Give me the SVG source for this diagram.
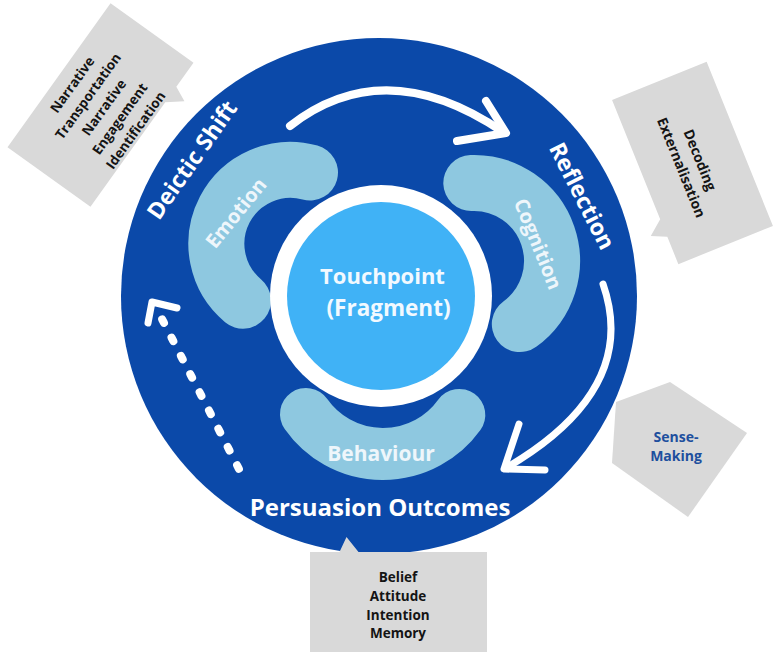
<svg xmlns="http://www.w3.org/2000/svg" width="774" height="652" viewBox="0 0 774 652">
  <style>
    text { font-family: "Open Sans", "Noto Sans", "Liberation Sans", sans-serif; font-weight: 700; }
    .ring-label { fill: #ffffff; font-size: 23px; text-anchor: middle; }
    .petal { fill: none; stroke: #8ec8e0; stroke-linecap: round; }
    .petal-label { fill: #eef6fb; font-size: 20px; text-anchor: middle; }
    .note { fill: #d9d9d9; }
    .note-text { fill: #141414; font-size: 13.5px; text-anchor: middle; }
    .flow { fill: none; stroke: #ffffff; stroke-linecap: round; stroke-linejoin: round; }
  </style>
  <defs>
    <!-- wedge callout: 177 x 102 box, pointer on the lower edge -->
    <path id="callout" d="M-88.5,-51 H88.5 V51 H59 L52,66 L40,51 H-88.5 Z"/>
  </defs>

  <!-- outer disc -->
  <g id="outer-ring">
    <circle cx="379" cy="296" r="258" fill="#0b49a9"/>
    <text class="ring-label" transform="translate(192,160) rotate(-55)" dy="0.35em">Deictic Shift</text>
    <text class="ring-label" transform="translate(582,196) rotate(63)" dy="0.35em">Reflection</text>
    <text class="ring-label" x="380" y="516" style="font-size:24px">Persuasion Outcomes</text>
  </g>

  <!-- cycle petals -->
  <g id="emotion">
    <path class="petal" stroke-width="56" d="M310,172.5 A74,74 0 0 0 243,300.7"/>
    <text class="petal-label" transform="translate(236,213) rotate(-51)" dy="0.35em">Emotion</text>
  </g>
  <g id="cognition">
    <path class="petal" stroke-width="56" d="M471.3,183 A78,78 0 0 1 519.8,324.1"/>
    <text class="petal-label" transform="translate(538,244) rotate(68)" dy="0.35em">Cognition</text>
  </g>
  <g id="behaviour">
    <path class="petal" stroke-width="52" d="M306,414 A94,94 0 0 0 459.3,414.9"/>
    <text class="petal-label" x="381" y="461" style="font-size:21px">Behaviour</text>
  </g>

  <!-- centre -->
  <g id="touchpoint">
    <circle cx="381" cy="296" r="111" fill="#ffffff"/>
    <circle cx="381" cy="296" r="94" fill="#40b2f6"/>
    <text x="382.5" y="284" fill="#f2f9ff" font-size="22" text-anchor="middle">Touchpoint</text>
    <text x="388.5" y="316" fill="#f2f9ff" font-size="22.5" text-anchor="middle">(Fragment)</text>
  </g>

  <!-- flow arrows -->
  <g id="connectors">
    <path class="flow" stroke-width="8" d="M290,126 Q385,52 503,132"/>
    <path class="flow" stroke-width="8" d="M486,101 L506,133 L457,141"/>
    <path class="flow" stroke-width="7" d="M603,284 Q640,390 506,468"/>
    <path class="flow" stroke-width="7" d="M519,424 L504,469 L545,470"/>
    <path class="flow" stroke-width="8" stroke-dasharray="4 16.5" stroke-linejoin="miter" d="M238.9,468.8 L162.1,319.2"/>
    <path class="flow" stroke-width="7" d="M148,323 L152,302 L177,308"/>
  </g>

  <!-- callouts -->
  <g id="note-narrative">
    <g transform="translate(100.5,105) rotate(-54.4)">
      <use href="#callout" class="note"/>
      <text class="note-text" y="-30">Narrative</text>
      <text class="note-text" y="-10.5">Transportation</text>
      <text class="note-text" y="9">Narrative</text>
      <text class="note-text" y="28.5">Engagement</text>
      <text class="note-text" y="48">Identification</text>
    </g>
  </g>

  <g id="note-decoding">
    <g transform="translate(692.5,163) rotate(68)">
      <use href="#callout" class="note"/>
      <text class="note-text" y="-3" style="font-size:14px">Decoding</text>
      <text class="note-text" y="17" style="font-size:14px">Externalisation</text>
    </g>
  </g>

  <g id="note-sense-making">
    <polygon class="note" points="616,402 670,382 747,433 688,517 612,463"/>
    <text x="676" y="442" fill="#1d4f9e" font-size="14" text-anchor="middle">Sense-</text>
    <text x="676" y="461" fill="#1d4f9e" font-size="14" text-anchor="middle">Making</text>
  </g>

  <g id="note-outcomes">
    <use href="#callout" class="note" transform="translate(398.5,603) rotate(180)"/>
    <text class="note-text" x="398" y="582">Belief</text>
    <text class="note-text" x="398" y="601">Attitude</text>
    <text class="note-text" x="398" y="620">Intention</text>
    <text class="note-text" x="398" y="638">Memory</text>
  </g>
</svg>
